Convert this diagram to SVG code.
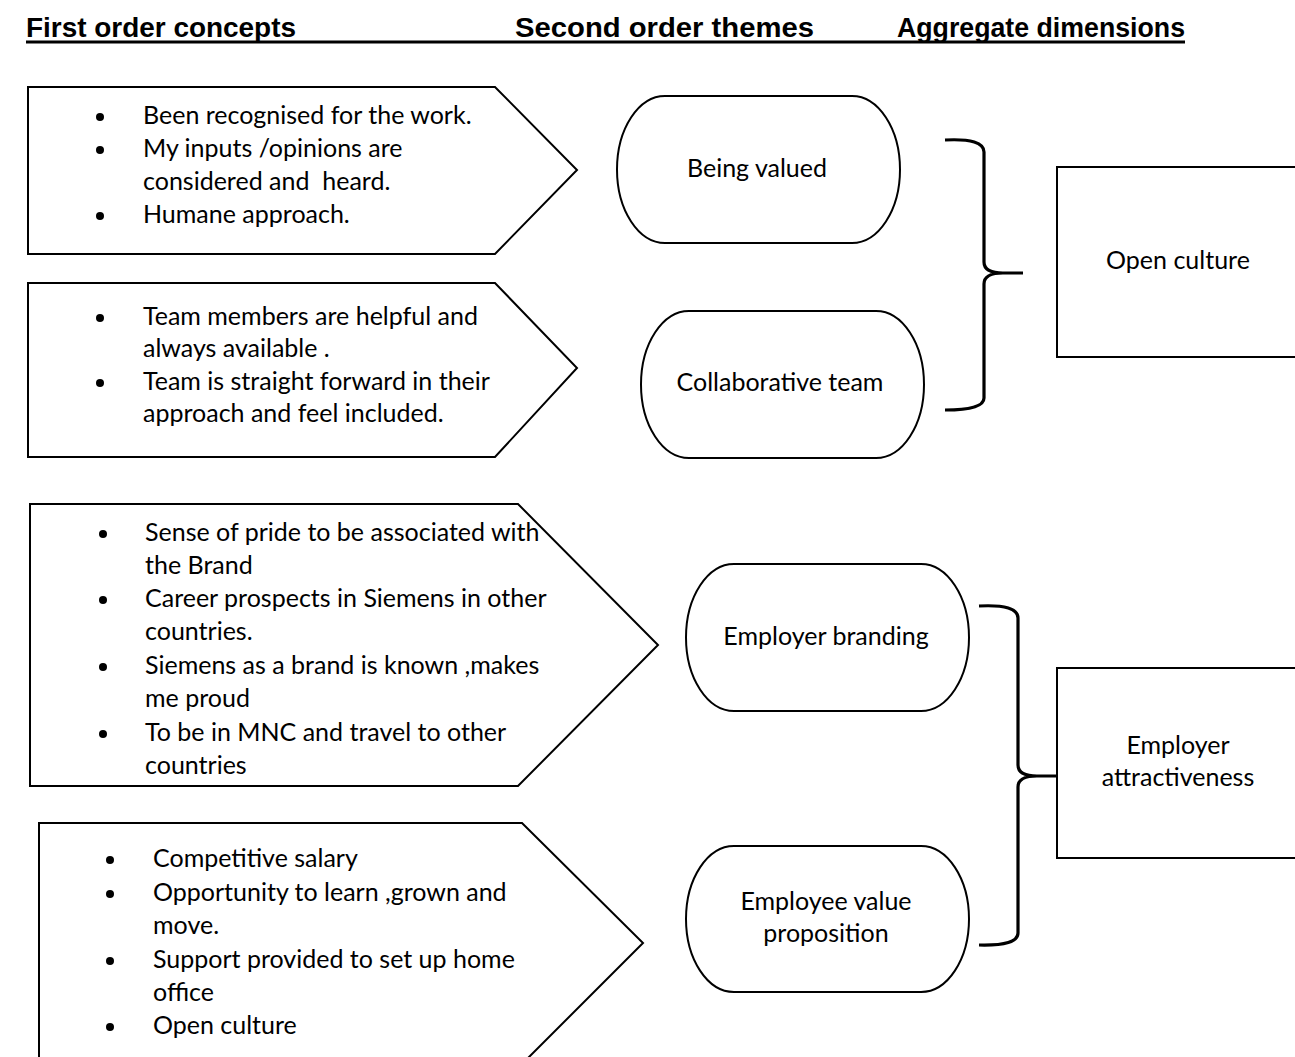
<svg xmlns="http://www.w3.org/2000/svg" width="1295" height="1057" viewBox="0 0 1295 1057">
<style>
.hdr{font-family:"Liberation Sans",Arial,sans-serif;font-weight:bold;font-size:27.5px;fill:#000}
.t{font-family:Lato,"Noto Sans",sans-serif;font-size:25px;fill:#000}
.c{text-anchor:middle}
.shape{fill:#fff;stroke:#000;stroke-width:2}
.brace{fill:none;stroke:#000;stroke-width:3.2}
.dot{fill:#000}
</style>
<rect width="1295" height="1057" fill="#fff"/>
<g id="header">
<text class="hdr" x="26" y="37" textLength="270" lengthAdjust="spacingAndGlyphs">First order concepts</text>
<text class="hdr" x="515" y="37" textLength="299" lengthAdjust="spacingAndGlyphs">Second order themes</text>
<text class="hdr" x="897" y="37" textLength="288" lengthAdjust="spacingAndGlyphs">Aggregate dimensions</text>
<line x1="26" y1="42" x2="1185" y2="42" stroke="#000" stroke-width="3"/>
</g>
<g id="concepts1">
<polygon class="shape" points="28,87 495,87 577,170 495,254 28,254"/>
<circle class="dot" cx="100" cy="117" r="4"/>
<text class="t" x="143" y="124">Been recognised for the work.</text>
<circle class="dot" cx="100" cy="150" r="4"/>
<text class="t" x="143" y="157">My inputs /opinions are</text>
<text class="t" x="143" y="190" xml:space="preserve">considered and  heard.</text>
<circle class="dot" cx="100" cy="216" r="4"/>
<text class="t" x="143" y="223">Humane approach.</text>
</g>
<g id="concepts2">
<polygon class="shape" points="28,283 495,283 577,368 495,457 28,457"/>
<circle class="dot" cx="100" cy="318" r="4"/>
<text class="t" x="143" y="325">Team members are helpful and</text>
<text class="t" x="143" y="357">always available .</text>
<circle class="dot" cx="100" cy="383" r="4"/>
<text class="t" x="143" y="390">Team is straight forward in their</text>
<text class="t" x="143" y="422">approach and feel included.</text>
</g>
<g id="concepts3">
<polygon class="shape" points="30,504 518,504 658,645 518,786 30,786"/>
<circle class="dot" cx="103" cy="534" r="4"/>
<text class="t" x="145" y="541">Sense of pride to be associated with</text>
<text class="t" x="145" y="574">the Brand</text>
<circle class="dot" cx="103" cy="600" r="4"/>
<text class="t" x="145" y="607">Career prospects in Siemens in other</text>
<text class="t" x="145" y="640">countries.</text>
<circle class="dot" cx="103" cy="667" r="4"/>
<text class="t" x="145" y="674">Siemens as a brand is known ,makes</text>
<text class="t" x="145" y="707">me proud</text>
<circle class="dot" cx="103" cy="734" r="4"/>
<text class="t" x="145" y="741">To be in MNC and travel to other</text>
<text class="t" x="145" y="774">countries</text>
</g>
<g id="concepts4">
<polygon class="shape" points="39,823 522,823 643,943 522,1064 39,1064"/>
<circle class="dot" cx="110" cy="860" r="4"/>
<text class="t" x="153" y="867">Competitive salary</text>
<circle class="dot" cx="110" cy="894" r="4"/>
<text class="t" x="153" y="901">Opportunity to learn ,grown and</text>
<text class="t" x="153" y="934">move.</text>
<circle class="dot" cx="110" cy="961" r="4"/>
<text class="t" x="153" y="968">Support provided to set up home</text>
<text class="t" x="153" y="1001">office</text>
<circle class="dot" cx="110" cy="1027" r="4"/>
<text class="t" x="153" y="1034">Open culture</text>
</g>
<g id="being-valued">
<rect class="shape" x="617" y="96" width="283" height="147" rx="48" ry="73.5"/>
<text class="t c" x="757" y="177">Being valued</text>
</g>
<g id="collaborative-team">
<rect class="shape" x="641" y="311" width="283" height="147" rx="48" ry="73.5"/>
<text class="t c" x="780" y="391">Collaborative team</text>
</g>
<g id="employer-branding">
<rect class="shape" x="686" y="564" width="283" height="147" rx="48" ry="73.5"/>
<text class="t c" x="826" y="645">Employer branding</text>
</g>
<g id="employee-value">
<rect class="shape" x="686" y="846" width="283" height="146" rx="48" ry="73"/>
<text class="t c" x="826" y="910">Employee value</text>
<text class="t c" x="826" y="942">proposition</text>
</g>
<g id="open-culture">
<rect class="shape" x="1057" y="167" width="260" height="190"/>
<text class="t c" x="1178" y="269">Open culture</text>
</g>
<g id="employer-attractiveness">
<rect class="shape" x="1057" y="668" width="260" height="190"/>
<text class="t c" x="1178" y="754">Employer</text>
<text class="t c" x="1178" y="786">attractiveness</text>
</g>
<g id="connectors">
<path class="brace" d="M945,140 Q984,138 984,152 L984,262 Q984,273 1003,273 L1023,273 M1003,273 Q984,273 984,284 L984,398 Q984,410 945,410"/>
<path class="brace" d="M979,606 Q1018,604 1018,618 L1018,765 Q1018,776 1037,776 L1057,776 M1037,776 Q1018,776 1018,787 L1018,933 Q1018,946 979,945"/>
</g>
</svg>
